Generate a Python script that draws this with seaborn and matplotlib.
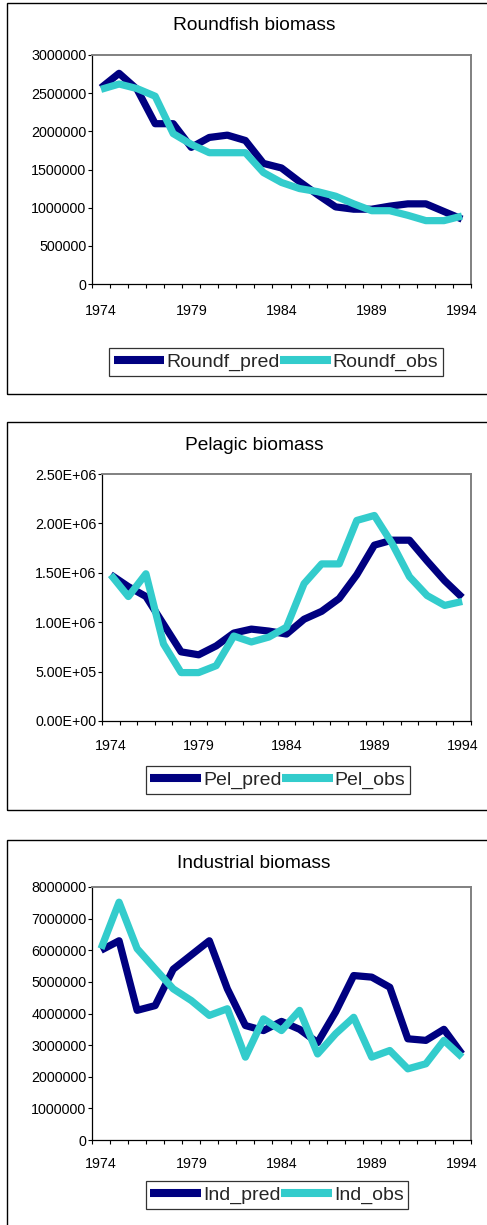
import numpy as np
import pandas as pd
import seaborn as sns
import matplotlib
matplotlib.use("Agg")
import matplotlib.pyplot as plt
from matplotlib.patches import Rectangle
from matplotlib.lines import Line2D
from matplotlib.ticker import FixedLocator, FuncFormatter

# ---- data -------------------------------------------------------------
years = list(range(1974, 1995))

roundf_pred = [2.57e6, 2.76e6, 2.55e6, 2.10e6, 2.10e6, 1.79e6, 1.92e6, 1.95e6,
               1.88e6, 1.58e6, 1.52e6, 1.34e6, 1.17e6, 1.01e6, 0.98e6, 0.98e6,
               1.02e6, 1.05e6, 1.05e6, 0.95e6, 0.85e6]
roundf_obs = [2.55e6, 2.62e6, 2.56e6, 2.46e6, 1.97e6, 1.83e6, 1.72e6, 1.72e6,
              1.72e6, 1.46e6, 1.33e6, 1.25e6, 1.21e6, 1.15e6, 1.05e6, 0.96e6,
              0.96e6, 0.90e6, 0.83e6, 0.83e6, 0.89e6]

pel_pred = [1.48e6, 1.36e6, 1.26e6, 0.98e6, 0.70e6, 0.67e6, 0.76e6, 0.89e6,
            0.93e6, 0.91e6, 0.88e6, 1.03e6, 1.11e6, 1.24e6, 1.48e6, 1.78e6,
            1.83e6, 1.83e6, 1.62e6, 1.42e6, 1.25e6]
pel_obs = [1.48e6, 1.26e6, 1.49e6, 0.78e6, 0.49e6, 0.49e6, 0.56e6, 0.86e6,
           0.80e6, 0.85e6, 0.95e6, 1.39e6, 1.59e6, 1.59e6, 2.03e6, 2.08e6,
           1.80e6, 1.46e6, 1.27e6, 1.17e6, 1.21e6]

ind_pred = [6.0e6, 6.3e6, 4.1e6, 4.25e6, 5.4e6, 5.85e6, 6.3e6, 4.78e6,
            3.62e6, 3.46e6, 3.75e6, 3.5e6, 3.08e6, 4.05e6, 5.2e6, 5.15e6,
            4.83e6, 3.2e6, 3.15e6, 3.5e6, 2.72e6]
ind_obs = [6.05e6, 7.52e6, 6.05e6, 5.41e6, 4.78e6, 4.41e6, 3.94e6, 4.15e6,
           2.62e6, 3.83e6, 3.46e6, 4.1e6, 2.72e6, 3.36e6, 3.88e6, 2.62e6,
           2.83e6, 2.25e6, 2.41e6, 3.15e6, 2.62e6]

year_labels = [1974, 1979, 1984, 1989, 1994]

# ---- style ------------------------------------------------------------
sns.set_style("white")
plt.rcParams["font.family"] = ["Liberation Sans", "DejaVu Sans"]

NAVY = "#000080"
TURQ = "#33CCCC"
W, H = 487, 1225
fig = plt.figure(figsize=(W / 100, H / 100), dpi=100)


def fx(px):
    return px / W


def fy(py):
    return 1 - py / H


panels = [
    dict(title="Roundfish biomass", names=("Roundf_pred", "Roundf_obs"),
         pred=roundf_pred, obs=roundf_obs, ymax=3e6, ystep=5e5, sci=False,
         box=(92, 55, 471, 284), frame=(3, 394), title_y=26,
         leg=(276, 362), xpad=14.5),
    dict(title="Pelagic biomass", names=("Pel_pred", "Pel_obs"),
         pred=pel_pred, obs=pel_obs, ymax=2.5e6, ystep=5e5, sci=True,
         box=(102, 474, 471, 721), frame=(422, 810), title_y=446,
         leg=(278, 780), xpad=13),
    dict(title="Industrial biomass", names=("Ind_pred", "Ind_obs"),
         pred=ind_pred, obs=ind_obs, ymax=8e6, ystep=1e6, sci=False,
         box=(92, 887, 471, 1140), frame=(840, 1235), title_y=863,
         leg=(277, 1195), xpad=12.5),
]

for p in panels:
    # outer chart frame
    top, bottom = p["frame"]
    fig.add_artist(Rectangle((fx(7), fy(bottom)), fx(500) - fx(7),
                             fy(top) - fy(bottom), transform=fig.transFigure,
                             fill=False, edgecolor="black", linewidth=1.0))

    l, t, r, b = p["box"]
    ax = fig.add_axes([fx(l), fy(b), fx(r) - fx(l), fy(t) - fy(b)])

    df = pd.DataFrame({
        "year": years * 2,
        "value": list(p["pred"]) + list(p["obs"]),
        "series": [p["names"][0]] * len(years) + [p["names"][1]] * len(years),
    })
    sns.lineplot(data=df, x="year", y="value", hue="series",
                 hue_order=list(p["names"]), palette=[NAVY, TURQ],
                 linewidth=5.2, legend=False, ax=ax,
                 solid_capstyle="butt", solid_joinstyle="round")

    ax.set_xlim(1973.5, 1994.5)
    ax.set_ylim(0, p["ymax"])
    ax.set_xlabel("")
    ax.set_ylabel("")

    # x axis: labels every 5 years, tick marks between categories
    ax.xaxis.set_major_locator(FixedLocator(year_labels))
    ax.xaxis.set_minor_locator(FixedLocator(np.arange(1973.5, 1995, 1.0)))
    ax.tick_params(axis="x", which="major", length=0, pad=p["xpad"],
                   labelsize=10.3, labelcolor="black")
    ax.tick_params(axis="x", which="minor", direction="out", length=3,
                   width=0.8, color="black", bottom=True)

    yt = np.arange(0, p["ymax"] + 1, p["ystep"])
    ax.yaxis.set_major_locator(FixedLocator(yt))
    if p["sci"]:
        ax.yaxis.set_major_formatter(FuncFormatter(lambda v, _: f"{v:.2E}"))
    else:
        ax.yaxis.set_major_formatter(FuncFormatter(lambda v, _: f"{int(round(v))}"))
    ax.tick_params(axis="y", direction="out", length=3, width=0.8,
                   color="black", pad=1, labelsize=10.3, labelcolor="black",
                   left=True)

    for side in ("left", "bottom"):
        ax.spines[side].set_color("black")
        ax.spines[side].set_linewidth(0.9)
    for side in ("top", "right"):
        ax.spines[side].set_color("#808080")
        ax.spines[side].set_linewidth(1.4)
    ax.set_facecolor("white")

    fig.text(fx(254), fy(p["title_y"]), p["title"], ha="center",
             va="center", fontsize=13.8, color="black")

    handles = [Line2D([], [], color=NAVY, linewidth=5.8, solid_capstyle="butt"),
               Line2D([], [], color=TURQ, linewidth=5.8, solid_capstyle="butt")]
    leg = fig.legend(handles, list(p["names"]), loc="center",
                     bbox_to_anchor=(fx(p["leg"][0]), fy(p["leg"][1])),
                     ncol=2, fontsize=14, frameon=True, fancybox=False,
                     handlelength=2.6, handletextpad=0.1, columnspacing=0.05,
                     borderpad=0.25, borderaxespad=0)
    leg.get_frame().set_edgecolor("black")
    leg.get_frame().set_linewidth(0.9)

fig.savefig("out.png", dpi=100, facecolor="white")
